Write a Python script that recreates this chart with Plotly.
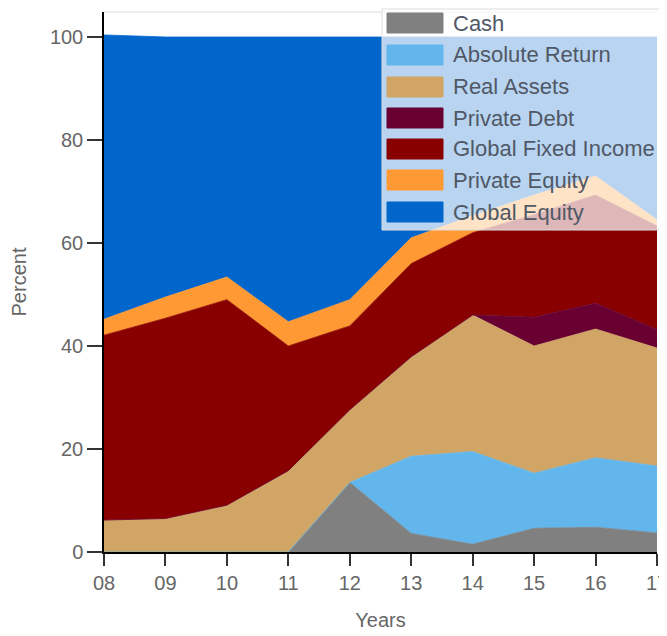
import plotly.graph_objects as go

years = ["08", "09", "10", "11", "12", "13", "14", "15", "16", "17"]

cash = [0, 0, 0, 0, 13.5, 3.6, 1.5, 4.6, 4.8, 3.7]
absolute_return = [0, 0, 0, 0, 0, 15.0, 18.0, 10.7, 13.5, 13.0]
real_assets = [6.2, 6.5, 9.1, 15.8, 14.1, 19.3, 26.5, 24.7, 25.0, 22.9]
private_debt = [0, 0, 0, 0, 0, 0, 0, 5.6, 5.0, 3.6]
global_fixed_income = [35.9, 38.9, 39.9, 24.2, 16.3, 18.1, 16.0, 19.9, 21.0, 20.1]
private_equity = [3.1, 4.1, 4.4, 4.7, 5.1, 5.0, 3.3, 3.8, 3.7, 1.2]
global_equity = [55.2, 50.5, 46.6, 55.3, 51.0, 39.0, 34.7, 30.7, 27.0, 35.5]

names = ["Cash", "Absolute Return", "Real Assets", "Private Debt",
         "Global Fixed Income", "Private Equity", "Global Equity"]
values = [cash, absolute_return, real_assets, private_debt,
          global_fixed_income, private_equity, global_equity]
colors = ["#808080", "#62B6EC", "#D0A565", "#680032", "#880000", "#FF9933", "#0066CC"]

x = list(range(len(years)))

fig = go.Figure()
for name, vals, col in zip(names, values, colors):
    fig.add_trace(go.Scatter(
        x=x, y=vals, name=name, mode="lines", stackgroup="one",
        line=dict(color=col, width=0.8), fillcolor=col,
    ))

# page offset of the plot div (default body margin) and plot area in page pixels
OFF = 8
W, H = 667 - OFF, 636 - OFF
L, R, T, B = 104, 657, 12, 552


def px(X):
    return (X - L) / (R - L)


def py(Y):
    return (B - Y) / (B - T)


shapes = [
    dict(type="line", xref="paper", yref="paper", x0=0, x1=1, y0=1, y1=1,
         line=dict(color="#dddddd", width=1), layer="above"),
    dict(type="rect", xref="paper", yref="paper",
         x0=px(382), x1=px(660), y0=py(230), y1=py(OFF + 1),
         fillcolor="rgba(255,255,255,0.72)", line=dict(color="#dddddd", width=1),
         layer="above"),
]
annotations = []
centers = [23, 55, 87, 118, 149, 180, 212]
for name, col, cy in zip(names, colors, centers):
    shapes.append(dict(type="rect", xref="paper", yref="paper",
                       x0=px(387), x1=px(443), y0=py(cy + 10), y1=py(cy - 10),
                       fillcolor=col, line=dict(color=col, width=1), layer="above"))
    annotations.append(dict(xref="paper", yref="paper", x=px(451), y=py(cy),
                            xanchor="left", yanchor="middle", text=name, showarrow=False,
                            font=dict(size=22, color="#505866")))

fig.update_layout(
    width=W, height=H,
    margin=dict(l=L - OFF, r=(667 - R), t=T - OFF, b=(636 - B), autoexpand=False),
    paper_bgcolor="white", plot_bgcolor="white",
    font=dict(family="Liberation Sans, Arial, sans-serif", color="#666666", size=20),
    showlegend=False,
    xaxis=dict(
        tickmode="array", tickvals=x, ticktext=years, range=[0, len(years) - 1],
        showline=True, linecolor="black", linewidth=2,
        ticks="outside", ticklen=12, tickcolor="#333333", tickwidth=1.5,
        showgrid=False, zeroline=False, ticklabeloverflow="allow",
        tickfont=dict(size=20, color="#666666"),
        title=dict(text="Years", font=dict(size=20, color="#666666"), standoff=20),
    ),
    yaxis=dict(
        range=[0, (B - T) / ((B - 37) / 100)], tickvals=[0, 20, 40, 60, 80, 100],
        showline=True, linecolor="black", linewidth=1.5,
        ticks="outside", ticklen=15, tickcolor="#333333", tickwidth=1.5,
        showgrid=False, zeroline=False,
        tickfont=dict(size=20, color="#666666"),
        title=dict(text="Percent", font=dict(size=20, color="#666666"), standoff=20),
    ),
    shapes=shapes,
    annotations=annotations,
)

fig.write_html("out.html")
